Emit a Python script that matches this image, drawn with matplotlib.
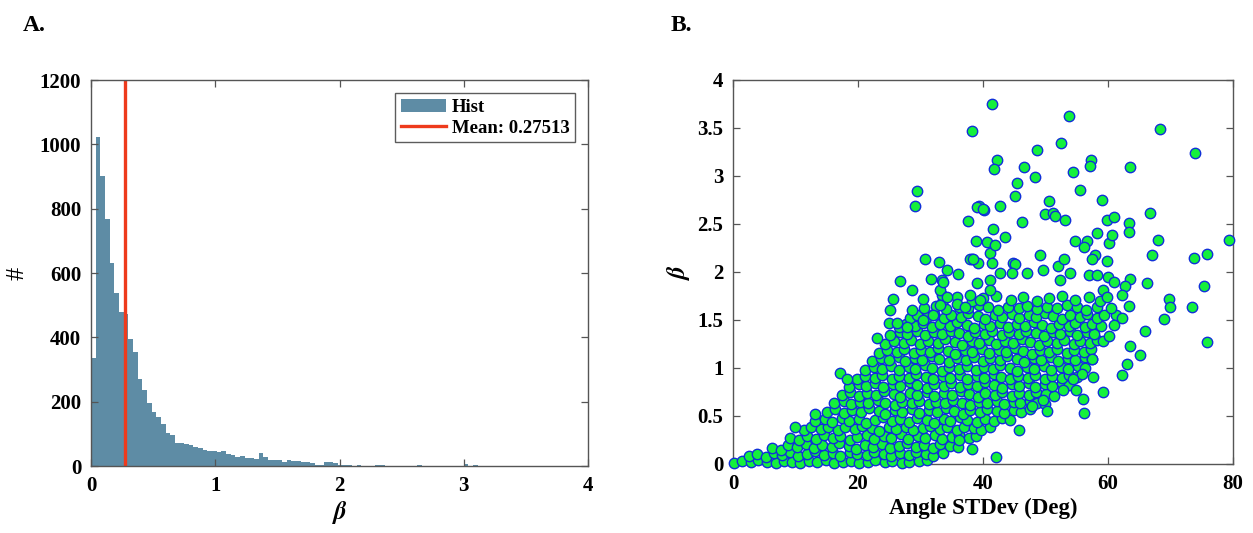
import numpy as np
import matplotlib
matplotlib.use('Agg')
import matplotlib.pyplot as plt
from matplotlib.patches import Patch
from matplotlib.lines import Line2D
from matplotlib.ticker import FormatStrFormatter

plt.rcParams['font.family'] = ['Liberation Serif', 'DejaVu Serif']
plt.rcParams['font.weight'] = 'bold'
plt.rcParams['mathtext.fontset'] = 'stix'

# ---- panel A: histogram of beta (100 bins, width 0.0375) ----
bin_width = 0.0375
hist_counts = [335, 1024, 902, 767, 630, 539, 480, 472, 396, 355,
               272, 236, 195, 169, 153, 132, 102, 96, 72, 70,
               68, 64, 60, 56, 50, 47, 46, 45, 48, 38,
               33, 28, 31, 26, 25, 23, 39, 27, 19, 19,
               18, 13, 19, 16, 15, 12, 12, 8, 4, 3,
               11, 12, 10, 2, 2, 2, 1, 2, 1, 1,
               0, 3, 3, 1, 1, 1, 0, 1, 0, 1,
               2, 1, 0, 0, 1, 0, 0, 1, 0, 1,
               5, 0, 2, 1, 0, 0, 0, 0, 0, 0,
               0, 0, 1, 0, 0, 0, 1, 0, 0, 1]
beta_mean = 0.27513

# ---- panel B: scatter of beta vs angle st.dev. ----
# dense core, read row by row (angle, beta)
core_pts = [
    (0.2, .01), (1.5, .03), (2.9, .02), (4.0, .04), (5.4, .02), (6.9, .01), (8.1, .03), (9.5, .02),
    (10.8, .01), (12.2, .03), (13.4, .02), (14.9, .04), (16.1, .01), (17.6, .02), (18.9, .03),
    (20.1, .01), (21.6, .02), (22.8, .04), (24.3, .02), (25.5, .03), (27.0, .01), (28.2, .02),
    (29.7, .03), (31.0, .04),
    (2.6, .08), (3.8, .10), (5.3, .07), (6.5, .11), (7.8, .09), (9.2, .12), (10.4, .08), (11.9, .10),
    (13.1, .13), (14.5, .09), (16.0, .11), (17.2, .08), (18.7, .12), (19.8, .10), (21.4, .09),
    (22.6, .12), (24.1, .10), (25.3, .08), (26.8, .11), (28.1, .09), (29.3, .12), (30.9, .10),
    (32.0, .08), (33.6, .11),
    (6.2, .17), (7.7, .15), (8.8, .20), (10.2, .18), (11.7, .21), (12.9, .17), (14.3, .20), (15.8, .18),
    (16.9, .22), (18.5, .19), (19.7, .16), (21.2, .20), (22.4, .18), (23.9, .21), (25.1, .17),
    (26.6, .19), (27.8, .22), (29.3, .18), (30.5, .20), (32.0, .17), (33.2, .21), (34.8, .19), (36.0, .18),
    (9.1, .27), (10.6, .25), (11.8, .29), (13.3, .26), (14.5, .30), (16.0, .27), (17.2, .29), (18.8, .25),
    (19.9, .28), (21.5, .30), (22.6, .26), (24.2, .29), (25.3, .27), (26.9, .31), (28.0, .26),
    (29.6, .29), (30.8, .27), (32.3, .30), (33.5, .26), (35.0, .28), (36.2, .30), (37.7, .27), (38.9, .29),
    (11.4, .35), (12.5, .38), (14.1, .36), (15.2, .39), (16.8, .35), (18.0, .38), (19.5, .36), (20.7, .40),
    (22.2, .37), (23.4, .34), (24.9, .38), (26.1, .36), (27.7, .39), (28.8, .35), (30.4, .37),
    (31.5, .40), (33.1, .36), (34.2, .38), (35.8, .35), (36.9, .39), (38.5, .37), (39.7, .35), (41.2, .38),
    (13.1, .45), (14.7, .47), (15.8, .44), (17.4, .48), (18.5, .45), (20.1, .47), (21.3, .43), (22.8, .46),
    (24.0, .49), (25.5, .45), (26.7, .47), (28.2, .44), (29.4, .48), (31.0, .46), (32.1, .43),
    (33.7, .47), (34.8, .45), (36.4, .49), (37.5, .46), (39.1, .44), (40.3, .47), (41.8, .45),
    (43.0, .48), (44.4, .46),
    (15.1, .54), (16.3, .57), (17.8, .53), (19.0, .56), (20.5, .54), (21.7, .58), (23.3, .55), (24.4, .52),
    (26.0, .56), (27.1, .54), (28.7, .57), (29.8, .53), (31.4, .56), (32.6, .54), (34.1, .58),
    (35.3, .55), (36.8, .52), (38.0, .56), (39.5, .54), (40.7, .57), (42.3, .55), (43.4, .53),
    (45.0, .56), (46.1, .54), (47.5, .57),
    (16.2, .63), (17.7, .66), (18.9, .62), (20.4, .65), (21.6, .63), (23.2, .67), (24.3, .64), (25.9, .61),
    (27.0, .65), (28.6, .63), (29.7, .66), (31.3, .62), (32.5, .65), (34.0, .63), (35.2, .67),
    (36.7, .64), (37.9, .61), (39.4, .65), (40.6, .63), (42.2, .66), (43.3, .62), (44.9, .65),
    (46.0, .63), (47.6, .66), (48.7, .64), (50.0, .62),
    (17.5, .72), (18.7, .75), (20.2, .71), (21.4, .74), (22.9, .72), (24.1, .76), (25.7, .73), (26.8, .70),
    (28.4, .74), (29.5, .72), (31.1, .75), (32.2, .71), (33.8, .74), (35.0, .72), (36.5, .76),
    (37.7, .73), (39.2, .70), (40.4, .74), (41.9, .72), (43.1, .75), (44.7, .71), (45.8, .74),
    (47.4, .72), (48.5, .75), (50.1, .73), (51.4, .71),
    (18.6, .80), (20.1, .83), (21.3, .81), (22.8, .84), (24.0, .80), (25.6, .83), (26.7, .81), (28.3, .85),
    (29.4, .82), (31.0, .79), (32.1, .83), (33.7, .81), (34.9, .84), (36.4, .80), (37.6, .83),
    (39.1, .81), (40.3, .85), (41.8, .82), (43.0, .79), (44.6, .83), (45.7, .81), (47.3, .84),
    (48.4, .80), (50.0, .83), (51.1, .81), (52.7, .84), (53.8, .82),
    (19.9, .89), (21.2, .92), (22.7, .90), (23.9, .93), (25.4, .89), (26.6, .92), (28.2, .90), (29.3, .94),
    (30.9, .91), (32.0, .88), (33.6, .92), (34.7, .90), (36.3, .93), (37.5, .89), (39.0, .92),
    (40.2, .90), (41.7, .94), (42.9, .91), (44.4, .88), (45.6, .92), (47.2, .90), (48.3, .93),
    (49.9, .89), (51.0, .92), (52.6, .90), (53.7, .93), (55.1, .91),
    (21.1, .98), (22.6, 1.01), (23.8, .99), (25.3, 1.02), (26.5, .98), (28.1, 1.01), (29.2, .99),
    (30.8, 1.03), (31.9, 1.00), (33.5, .97), (34.6, 1.01), (36.2, .99), (37.4, 1.02), (38.9, .98),
    (40.1, 1.01), (41.6, .99), (42.8, 1.03), (44.3, 1.00), (45.5, .97), (47.1, 1.01), (48.2, .99),
    (49.8, 1.02), (50.9, .98), (52.5, 1.01), (53.6, .99), (55.2, 1.02), (56.3, 1.00),
    (22.2, 1.07), (23.7, 1.10), (24.9, 1.08), (26.5, 1.11), (27.6, 1.07), (29.2, 1.10), (30.3, 1.08),
    (31.9, 1.12), (33.0, 1.09), (34.6, 1.06), (35.8, 1.10), (37.3, 1.08), (38.5, 1.11), (40.0, 1.07),
    (41.2, 1.10), (42.7, 1.08), (43.9, 1.12), (45.5, 1.09), (46.6, 1.06), (48.2, 1.10), (49.3, 1.08),
    (50.9, 1.11), (52.0, 1.07), (53.6, 1.10), (54.8, 1.08), (56.3, 1.11), (57.4, 1.09),
    (23.4, 1.16), (24.7, 1.19), (26.2, 1.17), (27.4, 1.20), (28.9, 1.16), (30.1, 1.19), (31.6, 1.17),
    (32.8, 1.21), (34.4, 1.18), (35.5, 1.15), (37.1, 1.19), (38.2, 1.17), (39.8, 1.20), (40.9, 1.16),
    (42.5, 1.19), (43.7, 1.17), (45.2, 1.21), (46.4, 1.18), (47.9, 1.15), (49.1, 1.19), (50.6, 1.17),
    (51.8, 1.20), (53.4, 1.16), (54.5, 1.19), (56.1, 1.17), (57.3, 1.20),
    (24.4, 1.25), (25.8, 1.28), (27.3, 1.26), (28.5, 1.29), (30.0, 1.25), (31.2, 1.28), (32.8, 1.26),
    (33.9, 1.30), (35.5, 1.27), (36.6, 1.24), (38.2, 1.28), (39.3, 1.26), (40.9, 1.29), (42.1, 1.25),
    (43.6, 1.28), (44.8, 1.26), (46.3, 1.30), (47.5, 1.27), (49.0, 1.24), (50.2, 1.28), (51.8, 1.26),
    (52.9, 1.29), (54.5, 1.25), (55.6, 1.28), (57.2, 1.26), (58.3, 1.29),
    (25.2, 1.34), (26.8, 1.37), (27.9, 1.35), (29.5, 1.38), (30.7, 1.34), (32.2, 1.37), (33.4, 1.35),
    (34.9, 1.39), (36.1, 1.36), (37.6, 1.33), (38.8, 1.37), (40.4, 1.35), (41.5, 1.38), (43.1, 1.34),
    (44.2, 1.37), (45.8, 1.35), (46.9, 1.39), (48.5, 1.36), (49.7, 1.33), (51.2, 1.37), (52.4, 1.35),
    (53.9, 1.38), (55.1, 1.34), (56.6, 1.37), (57.8, 1.35),
    (26.5, 1.43), (27.7, 1.46), (29.2, 1.44), (30.4, 1.47), (31.9, 1.43), (33.1, 1.46), (34.7, 1.44),
    (35.8, 1.48), (37.4, 1.45), (38.5, 1.42), (40.1, 1.46), (41.2, 1.44), (42.8, 1.47), (44.0, 1.43),
    (45.5, 1.46), (46.7, 1.44), (48.2, 1.48), (49.4, 1.45), (50.9, 1.42), (52.1, 1.46), (53.7, 1.44),
    (54.8, 1.47), (56.4, 1.43), (57.5, 1.46), (58.9, 1.44),
    (28.3, 1.52), (29.5, 1.55), (31.0, 1.53), (32.2, 1.56), (33.7, 1.52), (34.9, 1.55), (36.5, 1.53),
    (37.6, 1.57), (39.2, 1.54), (40.3, 1.51), (41.9, 1.55), (43.0, 1.53), (44.6, 1.56), (45.8, 1.52),
    (47.3, 1.55), (48.5, 1.53), (50.0, 1.57), (51.2, 1.54), (52.7, 1.51), (53.9, 1.55), (55.5, 1.53),
    (56.6, 1.56), (58.2, 1.52), (59.3, 1.55),
    (30.6, 1.62), (32.5, 1.65), (34.1, 1.61), (36.1, 1.64), (37.6, 1.62), (39.4, 1.66), (40.8, 1.63),
    (42.4, 1.60), (44.0, 1.64), (45.7, 1.62), (47.1, 1.65), (48.7, 1.61), (50.2, 1.64), (51.8, 1.62),
    (53.4, 1.66), (55.1, 1.63), (56.5, 1.60), (58.3, 1.64),
    (33.6, 1.71), (35.9, 1.74), (38.3, 1.70), (40.0, 1.73), (42.1, 1.75), (44.5, 1.71), (46.4, 1.74),
    (48.6, 1.70), (50.6, 1.73), (52.7, 1.75), (54.8, 1.71), (57.0, 1.74),
]

# scattered points around the core (angle, beta)
fringe_pts = [
    (41.4, 3.75), (53.7, 3.62), (38.3, 3.47), (68.3, 3.49), (74.0, 3.24), (48.6, 3.27), (52.5, 3.34),
    (42.2, 3.17), (41.7, 3.07), (46.6, 3.09), (45.5, 2.93), (48.3, 2.99), (54.4, 3.04), (57.3, 3.17),
    (57.1, 3.10), (63.5, 3.09), (55.5, 2.85), (45.1, 2.79), (39.4, 2.69), (40.2, 2.65), (42.7, 2.69),
    (50.6, 2.74), (49.9, 2.60), (51.2, 2.61), (51.5, 2.58), (53.2, 2.54), (59.1, 2.75), (59.8, 2.54),
    (60.9, 2.57), (63.3, 2.51), (63.3, 2.42), (66.8, 2.61), (37.6, 2.53), (41.6, 2.45), (43.5, 2.36),
    (46.2, 2.52), (38.9, 2.32), (40.6, 2.31), (41.1, 2.20), (41.9, 2.28), (54.7, 2.32), (56.6, 2.32),
    (58.2, 2.41), (60.1, 2.30), (60.6, 2.38), (68.0, 2.33), (67.0, 2.18), (79.4, 2.33), (73.7, 2.15),
    (75.8, 2.19), (49.1, 2.18), (38.2, 2.14), (56.2, 2.26), (57.9, 2.18), (59.8, 2.11), (66.2, 1.89),
    (75.3, 1.85), (69.8, 1.72), (70.0, 1.64), (73.5, 1.63), (63.5, 1.93), (62.7, 1.85), (62.2, 1.76),
    (63.4, 1.65), (61.3, 1.55), (62.2, 1.52), (69.0, 1.51), (66.0, 1.39), (75.8, 1.27), (63.5, 1.23),
    (65.1, 1.14), (63.0, 1.04), (62.2, 0.93), (59.2, 1.28), (59.2, 0.75), (57.6, 0.91), (57.4, 1.09),
    (56.0, 0.68), (56.2, 0.53), (55.8, 0.94), (54.4, 0.88), (54.9, 0.77), (52.8, 0.77), (50.2, 0.55),
    (49.6, 0.67), (47.8, 0.60), (45.8, 0.35), (42.1, 0.07), (38.2, 0.16), (36.2, 0.25),
    (29.5, 2.84), (29.1, 2.69), (30.8, 2.13), (33.0, 2.10), (26.7, 1.91), (31.7, 1.93), (33.4, 1.92),
    (28.6, 1.81), (30.4, 1.72), (25.6, 1.72), (25.2, 1.60), (28.6, 1.60), (33.4, 1.76), (34.2, 2.02),
    (24.9, 1.47), (26.2, 1.47), (27.8, 1.43), (30.4, 1.50), (32.0, 1.55), (23.0, 1.31), (17.1, 0.95),
    (18.3, 0.89), (13.1, 0.52), (9.9, 0.39),
    (36.0, 1.98), (33.1, 1.81), (34.2, 1.74), (33.1, 1.66), (35.9, 1.67), (39.0, 2.68), (40.0, 2.66),
    (37.9, 2.13), (39.2, 2.09), (41.4, 2.09), (42.7, 1.99), (44.8, 2.09), (39.0, 1.88), (41.1, 1.92),
    (37.9, 1.76), (39.5, 1.71), (37.1, 1.64), (41.1, 1.81), (33.6, 1.90), (38.4, 2.13), (45.1, 2.08),
    (44.6, 1.99), (47.0, 1.99), (49.6, 2.02), (52.0, 2.06), (52.9, 2.13), (53.9, 1.99), (52.3, 1.92),
    (56.9, 1.97), (58.2, 1.97), (57.4, 2.13), (60.0, 1.95), (60.9, 1.90), (59.2, 1.81), (60.5, 1.62),
    (61.0, 1.45), (60.2, 1.33), (58.8, 1.70), (59.9, 1.74),
]

fig = plt.figure(figsize=(12.53, 5.33), dpi=100)

spine_col = '#555555'
tick_fs = 15


def style_axes(ax):
    for s in ax.spines.values():
        s.set_color(spine_col)
        s.set_linewidth(1.0)
    ax.tick_params(direction='in', length=5, width=0.9, color=spine_col,
                   top=True, right=True, labelsize=tick_fs, pad=7)
    for lab in ax.get_xticklabels() + ax.get_yticklabels():
        lab.set_fontweight('bold')


# --- A ---
axA = fig.add_axes([0.0726, 0.1257, 0.3967, 0.7242])
edges = np.arange(len(hist_counts) + 1) * bin_width
centers = edges[:-1] + bin_width / 2
hist_col = '#5e8ca5'
axA.hist(centers, bins=edges, weights=hist_counts, color=hist_col, edgecolor='none')
axA.axvline(beta_mean, color='#ee3a1c', lw=2.4)
axA.set_xlim(0, 4)
axA.set_ylim(0, 1200)
axA.set_xticks([0, 1, 2, 3, 4])
axA.set_yticks(range(0, 1201, 200))
style_axes(axA)
axA.set_xlabel(r'$\beta$', fontsize=18, labelpad=2)
axA.set_ylabel('#', fontsize=19, labelpad=8)
handles = [Patch(facecolor=hist_col, edgecolor='none'),
           Line2D([0], [0], color='#ee3a1c', lw=2.4)]
leg = axA.legend(handles, ['Hist', 'Mean: %.5f' % beta_mean],
                 loc='upper right', bbox_to_anchor=(0.974, 0.966),
                 borderaxespad=0, fancybox=False,
                 handlelength=2.4, handletextpad=0.3, borderpad=0.3,
                 labelspacing=0.2, prop={'weight': 'bold', 'size': 13.5})
leg.get_frame().set_edgecolor('#333333')
leg.get_frame().set_linewidth(1.0)

# --- B ---
axB = fig.add_axes([0.585, 0.1295, 0.399, 0.7205])
ang = [p[0] for p in core_pts + fringe_pts]
bet = [p[1] for p in core_pts + fringe_pts]
axB.scatter(ang, bet, s=56, facecolor='#14f03c', edgecolor='#1030d8',
            linewidths=1.0, zorder=3, clip_on=False)
axB.set_xlim(0, 80)
axB.set_ylim(0, 4)
axB.set_xticks(range(0, 81, 20))
axB.set_yticks(np.arange(0, 4.01, 0.5))
axB.yaxis.set_major_formatter(FormatStrFormatter('%g'))
style_axes(axB)
axB.set_xlabel('Angle STDev (Deg)', fontsize=16.5, fontweight='bold', labelpad=3)
axB.set_ylabel(r'$\beta$', fontsize=18, labelpad=4)

fig.text(0.018, 0.952, 'A.', fontsize=17, fontweight='bold', va='center')
fig.text(0.535, 0.952, 'B.', fontsize=17, fontweight='bold', va='center')

fig.savefig('out.png', dpi=100)
